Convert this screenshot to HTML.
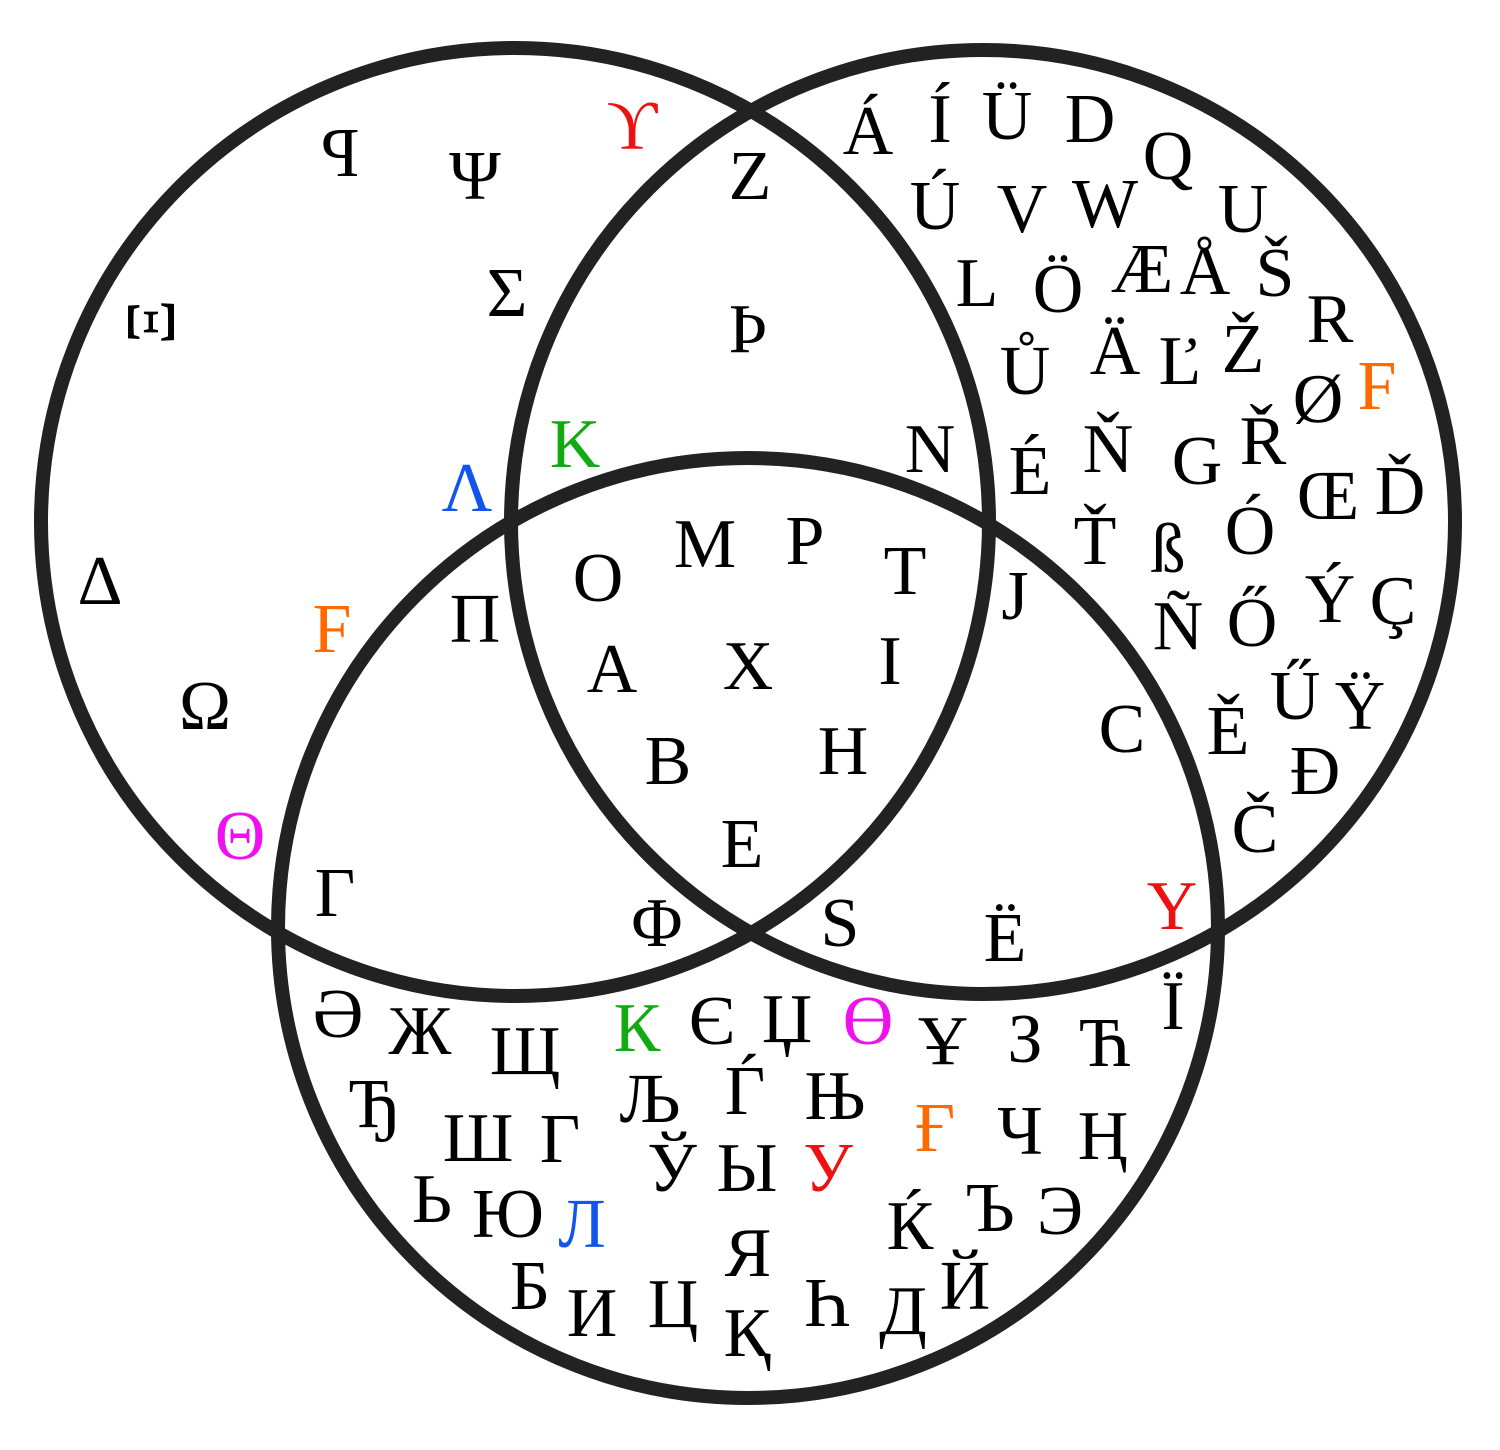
<!DOCTYPE html>
<html><head><meta charset="utf-8"><style>
html,body{margin:0;padding:0;background:#fff}
svg{display:block}
text{font-family:"Liberation Serif","DejaVu Serif",serif;font-size:70px;text-anchor:middle}
</style></head><body>
<svg id="chart" width="1500" height="1450" viewBox="0 0 1500 1450" xmlns="http://www.w3.org/2000/svg">
<g id="circles"></g>
<g id="letters"></g>
</svg>
<script>
const setNames = ["greek","latin","cyrillic"];
const setCx = [515, 983, 748];
const setCy = [522, 522, 928];
const setR = [474, 472, 470];

const chars = ["ϒ","Ρ","Ψ","Σ","Ξ","Δ","F","Λ","Ω","Θ",
"Z","Þ","K","N",
"M","P","O","T","A","X","I","B","H","E",
"Π","Γ","Φ",
"J","C","S","Ë","Y",
"Á","Í","Ü","D","Q","Ú","V","W","U","L","Ö","Æ","Å","Š","R","Ů","Ä","Ľ","Ž","Ø","F","É","Ň","G","Ř","Œ","Ď","Ť","ß","Ó","Ý","Ç","Ñ","Ő","Ű","Ÿ","Ě","Đ","Č",
"Ї","Ә","Ж","Щ","К","Є","Џ","Ө","Ұ","З","Ћ","Ђ","Љ","Ѓ","Њ","Ғ","Ш","Г","Ч","Ң","Ў","Ы","У","Ь","Ю","Л","Ќ","Ъ","Э","Я","Б","И","Ц","Һ","Д","Й","Қ"];
const charX = [632,340,475,507,150,100,332,467,205,240,
750,748,575,930,
705,805,598,905,612,748,890,668,843,742,
475,335,657,
1015,1122,840,1005,1172,
868,940,1007,1090,1168,935,1022,1105,1243,977,1058,1142,1205,1275,1330,1025,1115,1180,1243,1318,1377,1030,1108,1197,1263,1328,1400,1095,1168,1250,1330,1393,1178,1252,1295,1360,1228,1315,1255,
1173,338,420,525,637,712,787,868,943,1025,1105,375,650,745,835,935,478,560,1020,1103,672,747,828,432,508,582,910,990,1060,748,530,592,673,827,903,965,747];
const charY = [125,152,175,292,322,580,628,487,705,835,
175,328,443,448,
543,540,577,570,668,665,660,760,750,843,
618,892,922,
595,728,922,937,905,
130,118,115,118,155,205,208,203,208,282,288,268,270,272,318,370,350,360,348,398,385,470,448,460,440,495,490,540,548,530,598,600,625,622,695,705,730,770,828,
1005,1013,1030,1050,1027,1020,1018,1020,1040,1038,1042,1103,1098,1090,1095,1127,1137,1138,1130,1135,1167,1167,1167,1198,1213,1223,1225,1207,1210,1252,1285,1312,1303,1302,1310,1285,1332];
const colorMap = {"ϒ":"#ee1111","Y":"#ee1111","У":"#ee1111","K":"#11aa11","К":"#11aa11","Λ":"#1155ee","Л":"#1155ee","Θ":"#ee11ee","Ө":"#ee11ee","F":"#ff6a00","Ғ":"#ff6a00"};

const NS = "http://www.w3.org/2000/svg";
const cg = document.getElementById('circles');
for (let i = 0; i < setNames.length; i++) {
  const c = document.createElementNS(NS, 'circle');
  c.setAttribute('cx', setCx[i]); c.setAttribute('cy', setCy[i]); c.setAttribute('r', setR[i]);
  c.setAttribute('fill', 'none'); c.setAttribute('stroke', '#222'); c.setAttribute('stroke-width', '14');
  
  
  cg.appendChild(c);
}
const lg = document.getElementById('letters');
for (let i = 0; i < chars.length; i++) {
  const t = document.createElementNS(NS, 'text');
  const x = charX[i], y = charY[i] + 24;
  t.setAttribute('x', x); t.setAttribute('y', y);
  t.setAttribute('fill', colorMap[chars[i]] || '#000');
  if (chars[i] === 'Ξ') t.setAttribute('transform', 'rotate(-90 ' + x + ' ' + charY[i] + ')');
  if (chars[i] === 'Ρ') t.setAttribute('transform', 'translate(' + (2 * x) + ',0) scale(-1,1)');
  t.textContent = chars[i];
  
  
  lg.appendChild(t);
}
</script>
</body></html>
